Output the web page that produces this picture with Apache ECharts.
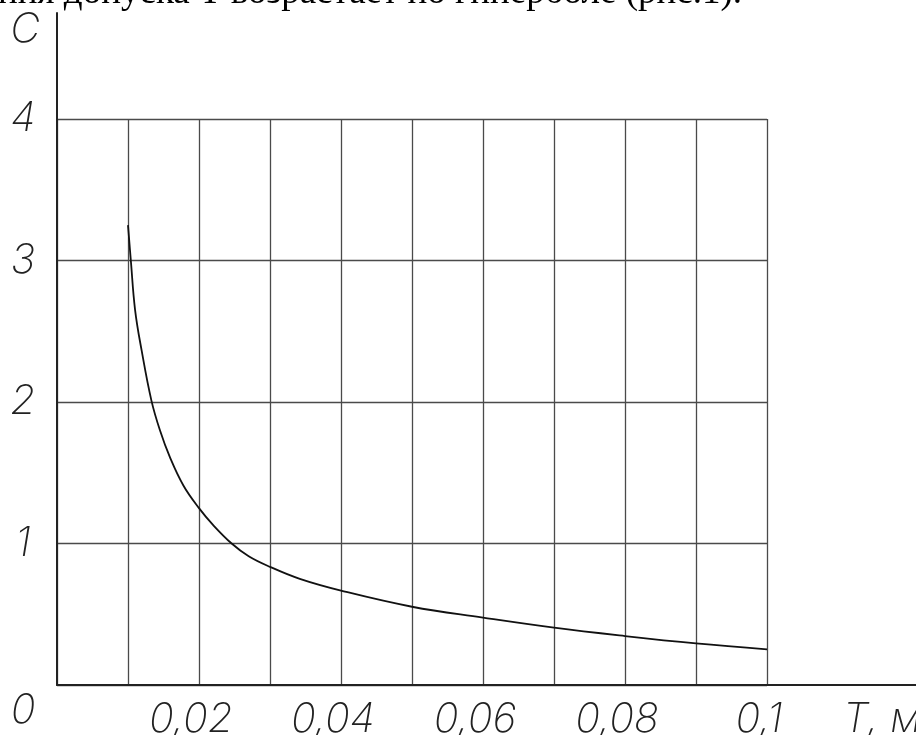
<!DOCTYPE html>
<html>
<head>
<meta charset="utf-8">
<script src="https://cdn.jsdelivr.net/npm/echarts@6/dist/echarts.min.js"></script>
<style>
html,body{margin:0;padding:0;background:#fff;}
#c{width:916px;height:735px;}
</style>
</head>
<body>
<div id="c"></div>
<script>
// Data
var T = [0.01, 0.0104, 0.011, 0.0119, 0.0133, 0.0145, 0.0159, 0.0178, 0.02, 0.022, 0.0246, 0.027, 0.03, 0.0342, 0.04, 0.05, 0.06, 0.07, 0.08, 0.09, 0.1];
var C = [3.25, 3.0, 2.65, 2.37, 2.01, 1.80, 1.61, 1.41, 1.25, 1.13, 1.0, 0.91, 0.835, 0.75, 0.667, 0.553, 0.476, 0.405, 0.346, 0.294, 0.252];
var xLabelValues = [0.02, 0.04, 0.06, 0.08, 0.1];
var xLabelTexts = ['0,02', '0,04', '0,06', '0,08', '0,1'];
var yLabelValues = [0, 1, 2, 3, 4];
var yLabelTexts = ['0', '1', '2', '3', '4'];
var xName = 'T, мм';
var yName = 'C';
var headText = 'значения допуска Т возрастает по гиперболе (рис.1).';

var tickFont = {
  fontFamily: 'Inter, DejaVu Sans',
  fontStyle: 'italic',
  fontWeight: 200,
  fontSize: 41,
  color: '#222'
};

var chart = echarts.init(document.getElementById('c'), null, {renderer: 'canvas'});
var lineData = T.map(function (t, i) { return [t, C[i]]; });

chart.setOption({
  backgroundColor: '#fff',
  animation: false,
  graphic: [{
    type: 'text',
    style: {
      x: 742, y: 12,
      text: headText,
      textAlign: 'right',
      textVerticalAlign: 'bottom',
      font: '37px "Liberation Serif", "Times New Roman", serif',
      fill: '#000'
    }
  }],
  grid: [
    {left: 57, top: 119, width: 710, height: 566, outerBoundsMode: 'none', containLabel: false},
    {left: 57, top: 13, right: 0, bottom: 50, outerBoundsMode: 'none', containLabel: false}
  ],
  xAxis: [
    {
      type: 'value', gridIndex: 0, min: 0, max: 0.1, interval: 0.01,
      axisLine: {show: false}, axisTick: {show: false},
      splitLine: {show: true, lineStyle: {color: '#4a4a4a', width: 1.3}},
      axisLabel: Object.assign({
        margin: 14, verticalAlign: 'top', padding: [0, 16, 0, 0],
        showMinLabel: true, showMaxLabel: true,
        formatter: function (v) {
          for (var i = 0; i < xLabelValues.length; i++) {
            if (Math.abs(v - xLabelValues[i]) < 1e-9) return xLabelTexts[i];
          }
          return '';
        }
      }, tickFont),
      name: xName, nameLocation: 'end', nameGap: 76,
      nameTextStyle: Object.assign({align: 'left', verticalAlign: 'top', padding: [14, 0, 0, 0]}, tickFont)
    },
    {
      type: 'value', gridIndex: 1, min: 0, max: 1,
      axisLine: {show: true, lineStyle: {color: '#222', width: 2}},
      axisTick: {show: false}, axisLabel: {show: false}, splitLine: {show: false}
    }
  ],
  yAxis: [
    {
      type: 'value', gridIndex: 0, min: 0, max: 4, interval: 1,
      axisLine: {show: false}, axisTick: {show: false},
      splitLine: {show: true, lineStyle: {color: '#4a4a4a', width: 1.3}},
      axisLabel: Object.assign({
        margin: 34, align: 'center', verticalAlign: 'middle',
        formatter: function (v) {
          for (var i = 0; i < yLabelValues.length; i++) {
            if (Math.abs(v - yLabelValues[i]) < 1e-9) {
              return v === 0 ? '{z|' + yLabelTexts[i] + '}' : yLabelTexts[i];
            }
          }
          return '';
        },
        rich: {z: Object.assign({padding: [52, 0, 0, 0]}, tickFont)}
      }, tickFont),
      name: yName, nameLocation: 'end', nameGap: 89,
      nameTextStyle: Object.assign({align: 'center', verticalAlign: 'middle', padding: [0, 64, 0, 0]}, tickFont)
    },
    {
      type: 'value', gridIndex: 1, min: 0, max: 1,
      axisLine: {show: true, lineStyle: {color: '#222', width: 2}},
      axisTick: {show: false}, axisLabel: {show: false}, splitLine: {show: false}
    }
  ],
  series: [{
    type: 'line', xAxisIndex: 0, yAxisIndex: 0,
    data: lineData, showSymbol: false, symbol: 'none',
    smooth: 0.4,
    lineStyle: {color: '#111', width: 1.8}
  }]
});
</script>
</body>
</html>
